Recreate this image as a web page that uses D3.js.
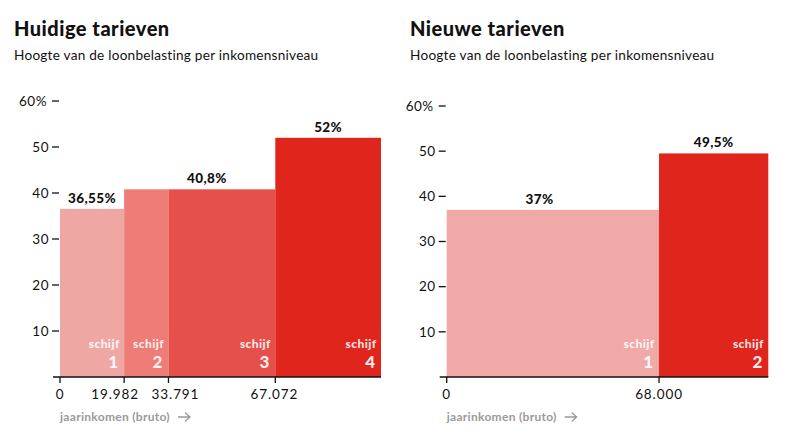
<!DOCTYPE html>
<html>
<head>
<meta charset="utf-8">
<script src="https://cdn.jsdelivr.net/npm/d3@7"></script>
<style>
  html, body { margin: 0; padding: 0; background: #ffffff; }
  svg { display: block; font-family: Lato, "Noto Sans", sans-serif; }
</style>
</head>
<body>
<svg id="chart" width="793" height="442"></svg>
<script>
// ---- data ----
const yTicks = [0, 10, 20, 30, 40, 50, 60];

const leftTitle = "Huidige tarieven";
const leftSubtitle = "Hoogte van de loonbelasting per inkomensniveau";
const leftBounds = [0, 19982, 33791, 67072, 100000];
const leftRates = [36.55, 40.8, 40.8, 52];
const leftBrackets = ["1", "2", "3", "4"];
const leftValueLabels = ["36,55%", "", "40,8%", "52%"];
const leftTickLabels = ["0", "19.982", "33.791", "67.072"];

const rightTitle = "Nieuwe tarieven";
const rightSubtitle = "Hoogte van de loonbelasting per inkomensniveau";
const rightBounds = [0, 68000, 103000];
const rightRates = [37, 49.5];
const rightBrackets = ["1", "2"];
const rightValueLabels = ["37%", "49,5%"];
const rightTickLabels = ["0", "68.000"];

const xAxisTitle = "jaarinkomen (bruto)";
const bracketWord = "schijf";

// ---- drawing ----
const svg = d3.select("#chart");

function panel(opt) {
  const g = svg.append("g");
  const x = d3.scaleLinear().domain([opt.bounds[0], opt.bounds[opt.bounds.length - 1]]).range([opt.x0, opt.x1]);
  const y = d3.scaleLinear().domain([0, 60]).range([377, opt.yTop]);

  g.append("text").attr("x", opt.tx).attr("y", 35.5)
    .attr("font-size", 20).attr("font-weight", 900).attr("letter-spacing", 0.5)
    .attr("fill", "#111").text(opt.title);
  g.append("text").attr("x", opt.tx).attr("y", 60)
    .attr("font-size", 13.6).attr("letter-spacing", 0.25).attr("fill", "#111").text(opt.subtitle);

  // y ticks (dash + label)
  const yt = g.append("g");
  yt.selectAll("line").data(yTicks.filter(d => d > 0)).join("line")
    .attr("x1", opt.x0 - 8).attr("x2", opt.x0 - 1)
    .attr("y1", d => y(d)).attr("y2", d => y(d))
    .attr("stroke", "#111").attr("stroke-width", 1.3);
  yt.selectAll("text").data(yTicks.filter(d => d > 0)).join("text")
    .attr("x", d => d === 60 ? opt.x0 - 13 : opt.x0 - 11)
    .attr("y", d => y(d)).attr("dy", "0.35em")
    .attr("text-anchor", "end").attr("font-size", 13.5).attr("letter-spacing", 0.5).attr("fill", "#111")
    .text(d => d === 60 ? d + "%" : d);

  const bars = opt.rates.map((r, i) => ({ r, a: opt.bounds[i], b: opt.bounds[i + 1], i }));
  g.selectAll("rect.bar").data(bars).join("rect").attr("class", "bar")
    .attr("x", d => x(d.a)).attr("width", d => x(d.b) - x(d.a))
    .attr("y", d => y(d.r)).attr("height", d => y(0) - y(d.r))
    .attr("fill", d => opt.colors[d.i]);

  // value labels
  g.selectAll("text.val").data(bars.filter(d => opt.valueLabels[d.i])).join("text").attr("class", "val")
    .attr("x", d => x(d.a) + (x(d.b) - x(d.a)) * opt.labelPos[d.i])
    .attr("y", d => y(d.r) - 6)
    .attr("text-anchor", "middle").attr("font-size", 13.5).attr("font-weight", 900)
    .attr("letter-spacing", 0.4).attr("fill", "#111")
    .text(d => opt.valueLabels[d.i]);

  // bracket labels
  g.selectAll("text.sw").data(bars).join("text").attr("class", "sw")
    .attr("x", d => x(d.b) - 4.5).attr("y", 347.5)
    .attr("text-anchor", "end").attr("font-size", 12).attr("font-weight", 900)
    .attr("letter-spacing", 0.4)
    .attr("fill", "#ffffff").attr("fill-opacity", 0.88).text(bracketWord);
  g.selectAll("text.sn").data(bars).join("text").attr("class", "sn")
    .attr("x", d => x(d.b) - 6).attr("y", 367.5)
    .attr("text-anchor", "end").attr("font-size", 17).attr("font-weight", 900)
    .attr("fill", "#ffffff").attr("fill-opacity", 0.92).text(d => opt.brackets[d.i]);

  // x axis
  g.append("line").attr("x1", opt.x0 - 7).attr("x2", x.range()[1])
    .attr("y1", 377).attr("y2", 377).attr("stroke", "#111").attr("stroke-width", 1.6);
  const tickVals = opt.bounds.slice(0, opt.tickLabels.length);
  g.selectAll("line.xt").data(tickVals).join("line").attr("class", "xt")
    .attr("x1", d => x(d)).attr("x2", d => x(d)).attr("y1", 377).attr("y2", 383)
    .attr("stroke", "#111").attr("stroke-width", 1.3);
  g.selectAll("text.xl").data(tickVals).join("text").attr("class", "xl")
    .attr("x", (d, i) => x(d) + opt.tickDx[i]).attr("y", 398.5)
    .attr("text-anchor", "middle").attr("font-size", 13.5).attr("letter-spacing", 0.9).attr("fill", "#111")
    .text((d, i) => opt.tickLabels[i]);

  g.append("text").attr("x", opt.x0).attr("y", 421)
    .attr("font-size", 12).attr("font-weight", 700).attr("letter-spacing", 0.3).attr("fill", "#9a9a9a")
    .text(xAxisTitle);
  // arrow
  const ax = opt.x0 + 118, ay = 417;
  g.append("path")
    .attr("d", `M${ax},${ay}H${ax + 12}M${ax + 7},${ay - 4.5}L${ax + 12},${ay}L${ax + 7},${ay + 4.5}`)
    .attr("fill", "none").attr("stroke", "#9a9a9a").attr("stroke-width", 1.3);
}

panel({
  title: leftTitle, subtitle: leftSubtitle, tx: 14,
  bounds: leftBounds, rates: leftRates, brackets: leftBrackets,
  valueLabels: leftValueLabels, tickLabels: leftTickLabels,
  x0: 60, x1: 381, yTop: 101,
  colors: ["#eea7a3", "#ee7c77", "#e6504a", "#e0261c"],
  labelPos: [0.5, 0.5, 0.36, 0.5],
  tickDx: [0, -9, 7, -1]
});

panel({
  title: rightTitle, subtitle: rightSubtitle, tx: 410,
  bounds: rightBounds, rates: rightRates, brackets: rightBrackets,
  valueLabels: rightValueLabels, tickLabels: rightTickLabels,
  x0: 446.7, x1: 768.3, yTop: 106,
  colors: ["#f0a9a6", "#e0261c"],
  labelPos: [0.437, 0.5],
  tickDx: [0, 0]
});
</script>
</body>
</html>
